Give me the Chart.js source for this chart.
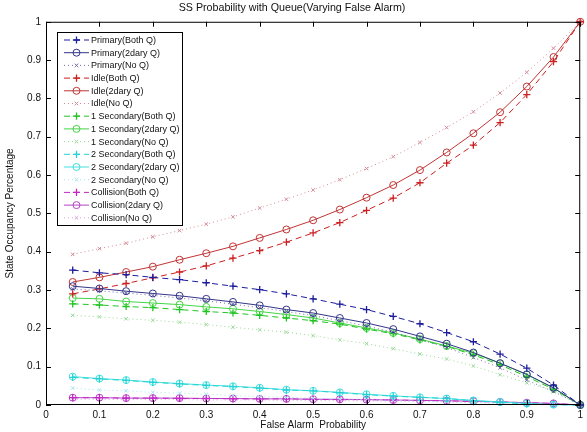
<!DOCTYPE html>
<html lang="en">
<head>
    <meta charset="UTF-8">
    <title>SS Probability with Queue</title>
    <script src="https://cdn.jsdelivr.net/npm/chart.js"></script>
    <style>
        html, body { margin: 0; padding: 0; background: #fff; }
        #wrap { width: 587px; height: 432px; }
    </style>
</head>
<body>
    <div id="wrap"><canvas id="ssChart"></canvas></div>

    <script>
        // false alarm probability (x values)
        const falseAlarm = [0.05, 0.1, 0.15, 0.2, 0.25, 0.3, 0.35, 0.4, 0.45, 0.5,
                            0.55, 0.6, 0.65, 0.7, 0.75, 0.8, 0.85, 0.9, 0.95, 1];

        const primaryBoth  = [0.352, 0.345, 0.340, 0.333, 0.327, 0.319, 0.310, 0.301, 0.290, 0.277, 0.263, 0.249, 0.231, 0.212, 0.189, 0.165, 0.133, 0.096, 0.052, 0];
        const primary2dary = [0.310, 0.304, 0.297, 0.291, 0.285, 0.277, 0.269, 0.260, 0.249, 0.240, 0.227, 0.214, 0.198, 0.179, 0.160, 0.137, 0.109, 0.080, 0.045, 0];
        const primaryNoQ   = [0.303, 0.298, 0.292, 0.286, 0.279, 0.272, 0.263, 0.254, 0.244, 0.233, 0.220, 0.206, 0.190, 0.171, 0.150, 0.124, 0.097, 0.065, 0.035, 0];
        const idleBoth     = [0.290, 0.303, 0.317, 0.332, 0.347, 0.363, 0.383, 0.403, 0.425, 0.449, 0.476, 0.508, 0.540, 0.580, 0.631, 0.678, 0.737, 0.810, 0.896, 1];
        const idle2dary    = [0.321, 0.333, 0.347, 0.361, 0.379, 0.396, 0.414, 0.436, 0.458, 0.482, 0.510, 0.541, 0.574, 0.613, 0.659, 0.709, 0.764, 0.831, 0.908, 1];
        const idleNoQ      = [0.393, 0.408, 0.422, 0.439, 0.455, 0.472, 0.491, 0.514, 0.537, 0.561, 0.588, 0.617, 0.648, 0.685, 0.724, 0.765, 0.814, 0.868, 0.931, 1];
        const sec1Both     = [0.264, 0.261, 0.257, 0.254, 0.249, 0.244, 0.240, 0.234, 0.227, 0.220, 0.211, 0.198, 0.186, 0.170, 0.153, 0.131, 0.105, 0.074, 0.041, 0];
        const sec12dary    = [0.279, 0.277, 0.270, 0.266, 0.262, 0.256, 0.251, 0.244, 0.236, 0.227, 0.214, 0.201, 0.188, 0.172, 0.154, 0.135, 0.109, 0.079, 0.044, 0];
        const sec1NoQ      = [0.234, 0.230, 0.225, 0.221, 0.216, 0.210, 0.203, 0.196, 0.190, 0.181, 0.170, 0.160, 0.147, 0.133, 0.120, 0.102, 0.079, 0.058, 0.037, 0];
        const sec2Both     = [0.072, 0.068, 0.064, 0.059, 0.055, 0.051, 0.048, 0.044, 0.039, 0.037, 0.032, 0.027, 0.023, 0.020, 0.017, 0.011, 0.007, 0.003, 0.001, 0];
        const sec22dary    = [0.074, 0.069, 0.065, 0.060, 0.056, 0.052, 0.049, 0.045, 0.040, 0.037, 0.033, 0.028, 0.024, 0.020, 0.017, 0.012, 0.008, 0.004, 0.001, 0];
        const sec2NoQ      = [0.044, 0.039, 0.037, 0.033, 0.031, 0.028, 0.025, 0.022, 0.020, 0.018, 0.016, 0.014, 0.012, 0.010, 0.008, 0.006, 0.004, 0.002, 0.001, 0];
        const collBoth     = [0.019, 0.019, 0.018, 0.018, 0.017, 0.017, 0.016, 0.016, 0.016, 0.015, 0.014, 0.014, 0.013, 0.012, 0.011, 0.009, 0.008, 0.006, 0.004, 0];
        const coll2dary    = [0.019, 0.019, 0.018, 0.018, 0.018, 0.017, 0.017, 0.016, 0.016, 0.015, 0.015, 0.014, 0.013, 0.012, 0.011, 0.010, 0.008, 0.006, 0.004, 0];
        const collNoQ      = [0.015, 0.015, 0.014, 0.014, 0.014, 0.013, 0.013, 0.013, 0.012, 0.012, 0.011, 0.011, 0.010, 0.009, 0.008, 0.007, 0.006, 0.004, 0.002, 0];

        const tickValues = [0, 0.1, 0.2, 0.3, 0.4, 0.5, 0.6, 0.7, 0.8, 0.9, 1];

        const FONT = 'Liberation Sans, Arial, sans-serif';
        const DASHED = [6, 4];
        const DOTTED = [1, 3];

        function series(label, values, color, style, marker) {
            return {
                label: label,
                data: values.map((v, i) => ({ x: falseAlarm[i], y: v })),
                borderColor: color,
                backgroundColor: 'rgba(0,0,0,0)',
                borderWidth: 1,
                borderDash: style,
                pointStyle: marker,
                pointRadius: marker === 'circle' ? 3.5 : (marker === 'cross' ? 3.6 : 2.5),
                pointBorderColor: color,
                pointBackgroundColor: 'rgba(0,0,0,0)',
                pointBorderWidth: marker === 'cross' ? 1.3 : 1,
                pointHoverRadius: 0,
                showLine: true,
                tension: 0,
                clip: 6
            };
        }

        const datasets = [
            series('Primary(Both Q)', primaryBoth, '#1c1c9c', DASHED, 'cross'),
            series('Primary(2dary Q)', primary2dary, '#34348a', [], 'circle'),
            series('Primary(No Q)', primaryNoQ, '#7070a8', DOTTED, 'crossRot'),
            series('Idle(Both Q)', idleBoth, '#cc2020', DASHED, 'cross'),
            series('Idle(2dary Q)', idle2dary, '#c03434', [], 'circle'),
            series('Idle(No Q)', idleNoQ, '#d48a96', DOTTED, 'crossRot'),
            series('1 Secondary(Both Q)', sec1Both, '#22c422', DASHED, 'cross'),
            series('1 Secondary(2dary Q)', sec12dary, '#44d444', [], 'circle'),
            series('1 Secondary(No Q)', sec1NoQ, '#98d898', DOTTED, 'crossRot'),
            series('2 Secondary(Both Q)', sec2Both, '#22d2d2', DASHED, 'cross'),
            series('2 Secondary(2dary Q)', sec22dary, '#44e0e0', [], 'circle'),
            series('2 Secondary(No Q)', sec2NoQ, '#a4e4f0', DOTTED, 'crossRot'),
            series('Collision(Both Q)', collBoth, '#c424c4', DASHED, 'cross'),
            series('Collision(2dary Q)', coll2dary, '#b444c4', [], 'circle'),
            series('Collision(No Q)', collNoQ, '#e0a4e0', DOTTED, 'crossRot')
        ];

        // MATLAB style box with inward ticks on every side
        const boxPlugin = {
            id: 'boxPlugin',
            afterDraw(chart) {
                const { ctx, chartArea: a, scales } = chart;
                ctx.save();
                ctx.strokeStyle = '#000';
                ctx.lineWidth = 1;
                ctx.setLineDash([]);
                ctx.strokeRect(a.left + 0.5, a.top + 0.5, a.right - a.left - 1, a.bottom - a.top - 1);
                ctx.beginPath();
                tickValues.forEach(v => {
                    const px = Math.round(scales.x.getPixelForValue(v)) + 0.5;
                    ctx.moveTo(px, a.bottom); ctx.lineTo(px, a.bottom - 5);
                    ctx.moveTo(px, a.top); ctx.lineTo(px, a.top + 5);
                    const py = Math.round(scales.y.getPixelForValue(v)) + 0.5;
                    ctx.moveTo(a.left, py); ctx.lineTo(a.left + 5, py);
                    ctx.moveTo(a.right, py); ctx.lineTo(a.right - 5, py);
                });
                ctx.stroke();
                ctx.restore();
            }
        };

        // legend drawn inside the plot, top-left
        const innerLegend = {
            id: 'innerLegend',
            afterDraw(chart) {
                const ctx = chart.ctx;
                const left = 57, top = 32, width = 125, rowH = 12.7;
                const height = 193;
                ctx.save();
                ctx.fillStyle = '#fff';
                ctx.fillRect(left, top, width, height);
                ctx.strokeStyle = '#000';
                ctx.lineWidth = 1;
                ctx.setLineDash([]);
                ctx.strokeRect(left + 0.5, top + 0.5, width, height);
                ctx.font = '9px ' + FONT;
                ctx.textBaseline = 'middle';
                chart.data.datasets.forEach((ds, i) => {
                    const y = top + 8 + i * rowH;
                    ctx.strokeStyle = ds.borderColor;
                    ctx.lineWidth = 1;
                    ctx.setLineDash(ds.borderDash);
                    ctx.beginPath();
                    ctx.moveTo(64, y); ctx.lineTo(89, y);
                    ctx.stroke();
                    ctx.setLineDash([]);
                    ctx.fillStyle = 'rgba(0,0,0,0)';
                    ctx.lineWidth = ds.pointBorderWidth;
                    Chart.helpers.drawPoint(ctx, {
                        pointStyle: ds.pointStyle,
                        radius: ds.pointRadius,
                        borderWidth: ds.pointBorderWidth,
                        rotation: 0
                    }, 76.5, y);
                    ctx.fillStyle = '#111';
                    ctx.fillText(ds.label, 91, y + 0.5);
                });
                ctx.restore();
            }
        };

        new Chart(document.getElementById('ssChart'), {
            type: 'scatter',
            data: { datasets: datasets },
            options: {
                responsive: true,
                maintainAspectRatio: false,
                animation: false,
                layout: { padding: { left: 0, right: 3, top: 0, bottom: 0 } },
                plugins: {
                    legend: { display: false },
                    tooltip: { enabled: false },
                    title: {
                        display: true,
                        text: 'SS Probability with Queue(Varying False Alarm)',
                        color: '#111',
                        font: { family: FONT, size: 10.7, weight: 'normal', lineHeight: 1.1 },
                        padding: { top: 2, bottom: 8 }
                    }
                },
                scales: {
                    x: {
                        type: 'linear',
                        min: 0,
                        max: 1,
                        afterBuildTicks: s => { s.ticks = tickValues.map(v => ({ value: v })); },
                        afterFit: s => { s.height = 27; },
                        grid: { display: false, drawTicks: false, tickLength: 0 },
                        border: { display: false },
                        ticks: {
                            color: '#111',
                            padding: 4,
                            maxRotation: 0,
                            font: { family: FONT, size: 10 },
                            callback: v => String(Math.round(v * 10) / 10)
                        },
                        title: {
                            display: true,
                            text: 'False Alarm  Probability',
                            color: '#111',
                            font: { family: FONT, size: 10 },
                            padding: { top: 0, bottom: 1 }
                        }
                    },
                    y: {
                        type: 'linear',
                        min: 0,
                        max: 1,
                        afterBuildTicks: s => { s.ticks = tickValues.map(v => ({ value: v })); },
                        afterFit: s => { s.width = 46; },
                        grid: { display: false, drawTicks: false, tickLength: 0 },
                        border: { display: false },
                        ticks: {
                            color: '#111',
                            padding: 5,
                            font: { family: FONT, size: 10 },
                            callback: v => String(Math.round(v * 10) / 10)
                        },
                        title: {
                            display: true,
                            text: 'State Occupancy Percentage',
                            color: '#111',
                            font: { family: FONT, size: 10 },
                            padding: { top: 4, bottom: 0 }
                        }
                    }
                }
            },
            plugins: [boxPlugin, innerLegend]
        });
    </script>
</body>
</html>
